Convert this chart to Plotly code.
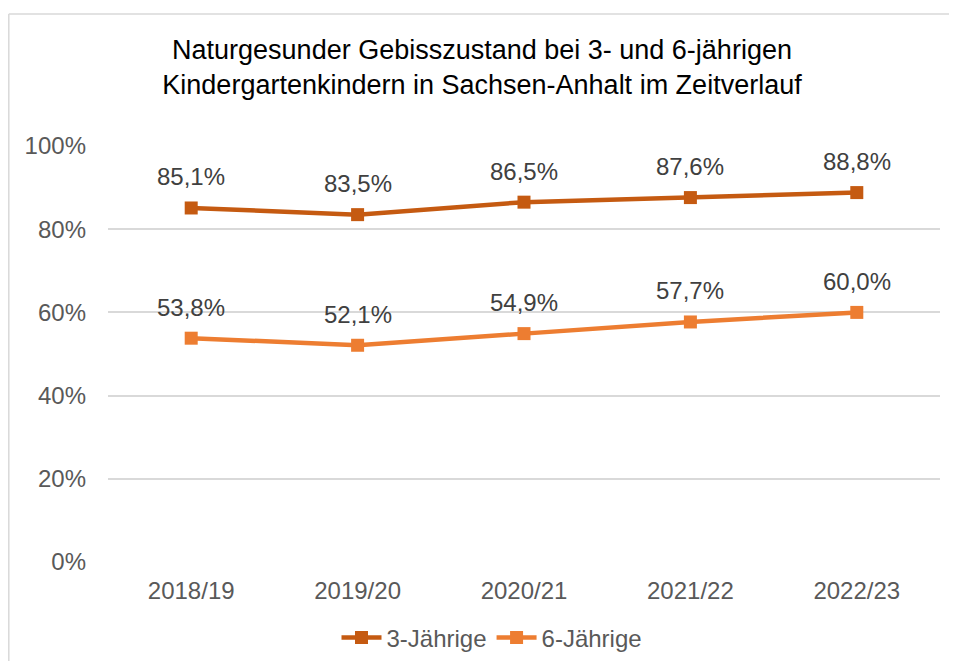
import plotly.graph_objects as go

categories = ["2018/19", "2019/20", "2020/21", "2021/22", "2022/23"]
vals_3 = [0.851, 0.835, 0.865, 0.876, 0.888]
vals_6 = [0.538, 0.521, 0.549, 0.577, 0.600]
labels_3 = ["85,1%", "83,5%", "86,5%", "87,6%", "88,8%"]
labels_6 = ["53,8%", "52,1%", "54,9%", "57,7%", "60,0%"]
ytick_vals = [0, 0.2, 0.4, 0.6, 0.8, 1.0]
ytick_text = ["0%", "20%", "40%", "60%", "80%", "100%"]

series = [
    ("3-Jährige", vals_3, labels_3, "#C55A11"),
    ("6-Jährige", vals_6, labels_6, "#ED7D31"),
]

FONT = "Liberation Sans, Arial, sans-serif"
OFF = 8  # default page body margin
W, H = 957 - 2 * OFF, 669 - 2 * OFF
L = 108 - OFF
T = 146 - OFF
R = W - (940 - OFF)
B = H - (562 - OFF)
pw, ph = W - L - R, H - T - B

def px2x(px):
    return (px - OFF - L) / pw

def px2y(py):
    return (H - B - (py - OFF)) / ph

fig = go.Figure()
annotations = []
for name, vals, labs, col in series:
    fig.add_trace(go.Scatter(
        x=categories, y=vals, name=name, mode="lines+markers",
        line=dict(color=col, width=4.5),
        marker=dict(symbol="square", size=13, color=col),
        cliponaxis=False,
    ))
    for c, v, t in zip(categories, vals, labs):
        annotations.append(dict(
            x=c, y=v, text=t, showarrow=False, yshift=31,
            xanchor="center", yanchor="middle",
            font=dict(family=FONT, size=24, color="#404040"),
        ))

border = dict(color="#D9D9D9", width=1.5)
fig.update_layout(
    width=W, height=H,
    margin=dict(l=L, r=R, t=T, b=B, autoexpand=False),
    paper_bgcolor="white", plot_bgcolor="white",
    font=dict(family=FONT, size=24, color="#595959"),
    title=dict(
        text="Naturgesunder Gebisszustand bei 3- und 6-jährigen<br>Kindergartenkindern in Sachsen-Anhalt im Zeitverlauf",
        x=(482 - OFF) / W, xref="container", xanchor="center",
        y=1 - 51 / H, yref="container", yanchor="top",
        font=dict(family=FONT, size=27, color="#000000"),
    ),
    xaxis=dict(
        type="category", range=[-0.5, 4.5], showgrid=False, zeroline=False,
        showline=False, ticks="", ticklabelstandoff=12,
        tickfont=dict(size=24, color="#595959"),
    ),
    yaxis=dict(
        range=[0, 1], tickvals=ytick_vals, ticktext=ytick_text,
        showgrid=True, gridcolor="#D9D9D9", gridwidth=1.5,
        zeroline=False, showline=False, ticks="", ticklabelstandoff=21,
        tickfont=dict(size=24, color="#595959"),
    ),
    legend=dict(
        orientation="h", x=px2x(492), xanchor="center",
        y=px2y(638), yanchor="middle",
        font=dict(size=24, color="#595959"),
        itemwidth=40, tracegroupgap=0,
    ),
    annotations=annotations,
    shapes=[
        dict(type="line", xref="paper", yref="paper",
             x0=px2x(8.8), x1=px2x(957), y0=px2y(14), y1=px2y(14),
             line=border, layer="below"),
        dict(type="line", xref="paper", yref="paper",
             x0=px2x(8.8), x1=px2x(8.8), y0=px2y(14), y1=px2y(669),
             line=border, layer="below"),
    ],
    showlegend=True,
)

fig.write_html("out.html")
